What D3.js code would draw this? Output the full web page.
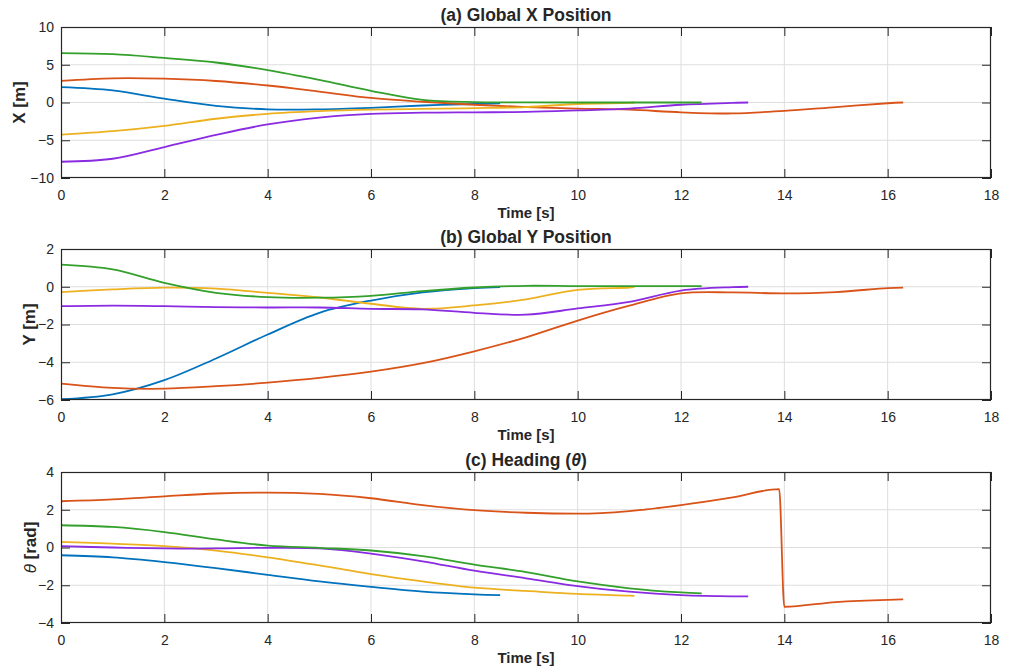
<!DOCTYPE html>
<html>
<head>
<meta charset="utf-8">
<script src="https://cdn.jsdelivr.net/npm/d3@7"></script>
<style>
  body { margin: 0; background: #fff; }
</style>
</head>
<body>
<svg id="chart" width="1011" height="668"></svg>
<script>
// time samples for each robot (seconds)
const timeBlue   = [0, 1, 2, 3, 4, 5, 6, 7, 8, 8.5]
const timeYellow = [0, 1, 2, 3, 4, 5, 6, 7, 8, 9, 10, 11, 11.1]
const timeGreen  = [0, 1, 2, 3, 4, 5, 6, 7, 8, 9, 10, 11, 12, 12.4]
const timePurple = [0, 1, 2, 3, 4, 5, 6, 7, 8, 9, 10, 11, 12, 13, 13.3]
const timeOrange = [0, 1, 2, 3, 4, 5, 6, 7, 8, 9, 10, 11, 12, 13, 14, 15, 16, 16.3]
const timeOrangeHeading = [0, 1, 2, 3, 4, 5, 6, 7, 8, 9, 10, 11, 12, 13, 13.9, 14, 15, 16, 16.3]

// (a) global X position [m]
const blueX   = [2.03, 1.6, 0.5, -0.45, -0.9, -0.9, -0.7, -0.4, -0.2, -0.1]
const yellowX = [-4.25, -3.8, -3.1, -2.15, -1.5, -1.15, -0.95, -0.85, -0.75, -0.6, -0.2, -0.05, 0]
const greenX  = [6.54, 6.4, 5.9, 5.3, 4.3, 3.0, 1.55, 0.35, 0.05, 0.02, 0, 0, 0, 0]
const purpleX = [-7.85, -7.45, -5.9, -4.3, -2.9, -2.0, -1.5, -1.35, -1.3, -1.25, -1.05, -0.8, -0.3, -0.05, 0]
const orangeX = [2.87, 3.2, 3.15, 2.85, 2.25, 1.45, 0.6, 0.1, -0.3, -0.6, -0.8, -0.95, -1.3, -1.45, -1.1, -0.6, -0.1, 0]

// (b) global Y position [m]
const blueY   = [-5.96, -5.7, -4.95, -3.8, -2.53, -1.38, -0.73, -0.3, -0.07, -0.02]
const yellowY = [-0.28, -0.14, -0.05, -0.1, -0.32, -0.57, -0.9, -1.17, -0.99, -0.67, -0.16, -0.04, 0]
const greenY  = [1.17, 0.92, 0.21, -0.32, -0.55, -0.58, -0.48, -0.23, -0.04, 0.05, 0.03, 0.03, 0.03, 0.03]
const purpleY = [-1.03, -1.0, -1.03, -1.08, -1.1, -1.1, -1.17, -1.2, -1.38, -1.48, -1.15, -0.8, -0.2, -0.02, 0]
const orangeY = [-5.13, -5.36, -5.4, -5.27, -5.08, -4.83, -4.5, -4.05, -3.42, -2.68, -1.79, -1.0, -0.35, -0.3, -0.35, -0.28, -0.07, -0.05]

// (c) heading [rad]
const blueH   = [-0.41, -0.52, -0.77, -1.09, -1.45, -1.8, -2.09, -2.34, -2.48, -2.52]
const yellowH = [0.3, 0.2, 0.07, -0.16, -0.52, -0.95, -1.41, -1.8, -2.13, -2.3, -2.46, -2.55, -2.56]
const greenH  = [1.18, 1.09, 0.82, 0.43, 0.1, -0.02, -0.16, -0.46, -0.91, -1.3, -1.8, -2.16, -2.38, -2.43]
const purpleH = [0.07, 0, -0.05, -0.05, -0.02, -0.05, -0.32, -0.73, -1.23, -1.63, -2.05, -2.34, -2.52, -2.59, -2.59]
const orangeH = [2.45, 2.55, 2.71, 2.86, 2.91, 2.84, 2.61, 2.25, 1.98, 1.84, 1.79, 1.93, 2.25, 2.66, 3.09, -3.14, -2.89, -2.77, -2.75]

const xTicks = [0, 2, 4, 6, 8, 10, 12, 14, 16, 18]

const colors = {
    blue: '#0072BD',
    orange: '#D95319',
    yellow: '#EDB120',
    purple: '#8A2BE2',
    green: '#33A02C'
}

// sizes
const left = 61
const right = 991
const plotHeight = 151
const tickLen = 9
const fontFamily = '"Liberation Sans", Arial, sans-serif'
const ink = '#262626'

const panels = [
    {
        top: 27, domain: [-10, 10], ticks: [-10, -5, 0, 5, 10],
        title: '(a) Global X Position', ylabel: 'X [m]', ylabelX: 19,
        series: [
            { t: timeBlue, v: blueX, c: colors.blue },
            { t: timeOrange, v: orangeX, c: colors.orange },
            { t: timeYellow, v: yellowX, c: colors.yellow },
            { t: timePurple, v: purpleX, c: colors.purple },
            { t: timeGreen, v: greenX, c: colors.green }
        ]
    },
    {
        top: 249, domain: [-6, 2], ticks: [-6, -4, -2, 0, 2],
        title: '(b) Global Y Position', ylabel: 'Y [m]', ylabelX: 29,
        series: [
            { t: timeBlue, v: blueY, c: colors.blue },
            { t: timeOrange, v: orangeY, c: colors.orange },
            { t: timeYellow, v: yellowY, c: colors.yellow },
            { t: timePurple, v: purpleY, c: colors.purple },
            { t: timeGreen, v: greenY, c: colors.green }
        ]
    },
    {
        top: 472, domain: [-4, 4], ticks: [-4, -2, 0, 2, 4],
        title: null, ylabel: null, ylabelX: 30,
        series: [
            { t: timeBlue, v: blueH, c: colors.blue },
            { t: timeOrangeHeading, v: orangeH, c: colors.orange, sharp: true },
            { t: timeYellow, v: yellowH, c: colors.yellow },
            { t: timePurple, v: purpleH, c: colors.purple },
            { t: timeGreen, v: greenH, c: colors.green }
        ]
    }
]

const svg = d3.select('#chart')
svg.append('rect').attr('width', 1011).attr('height', 668).attr('fill', '#fff')

const xScale = d3.scaleLinear().domain([0, 18]).range([left, right])

const boldText = (sel, size) => sel
    .style('font-family', fontFamily)
    .style('font-size', size + 'px')
    .style('font-weight', 'bold')
    .style('fill', ink)

panels.forEach(p => {
    const bottom = p.top + plotHeight
    const yScale = d3.scaleLinear().domain(p.domain).range([bottom, p.top])
    const g = svg.append('g')

    // grid
    g.append('g').selectAll('line')
        .data(xTicks.slice(1, -1))
        .enter().append('line')
        .attr('x1', d => xScale(d)).attr('x2', d => xScale(d))
        .attr('y1', p.top).attr('y2', bottom)
        .attr('stroke', '#dedede').attr('stroke-width', 1)
    g.append('g').selectAll('line')
        .data(p.ticks.slice(1, -1))
        .enter().append('line')
        .attr('x1', left).attr('x2', right)
        .attr('y1', d => yScale(d)).attr('y2', d => yScale(d))
        .attr('stroke', '#dedede').attr('stroke-width', 1)

    // data lines
    p.series.forEach(s => {
        const line = d3.line()
            .x(d => xScale(d[0]))
            .y(d => yScale(d[1]))
            .curve(s.sharp ? d3.curveMonotoneX : d3.curveCatmullRom.alpha(0.5))
        g.append('path')
            .datum(s.t.map((t, i) => [t, s.v[i]]))
            .attr('d', line)
            .attr('fill', 'none')
            .attr('stroke', s.c)
            .attr('stroke-width', 1.8)
            .attr('stroke-linejoin', 'round')
    })

    // axes with inward ticks on all four sides
    const xAxisB = d3.axisBottom(xScale).tickValues(xTicks).tickSizeInner(-tickLen).tickSizeOuter(0).tickPadding(12)
    const xAxisT = d3.axisTop(xScale).tickValues(xTicks).tickSizeInner(-tickLen).tickSizeOuter(0).tickFormat('')
    const yAxisL = d3.axisLeft(yScale).tickValues(p.ticks).tickSizeInner(-tickLen).tickSizeOuter(0).tickPadding(7)
    const yAxisR = d3.axisRight(yScale).tickValues(p.ticks).tickSizeInner(-tickLen).tickSizeOuter(0).tickFormat('')

    const axes = [
        g.append('g').attr('transform', `translate(0,${bottom})`).call(xAxisB),
        g.append('g').attr('transform', `translate(0,${p.top})`).call(xAxisT),
        g.append('g').attr('transform', `translate(${left},0)`).call(yAxisL),
        g.append('g').attr('transform', `translate(${right},0)`).call(yAxisR)
    ]
    axes.forEach(a => {
        a.select('.domain').remove()
        a.selectAll('line').attr('stroke', ink).attr('stroke-width', 1)
        a.selectAll('text')
            .style('font-family', fontFamily)
            .style('font-size', '14px')
            .style('fill', ink)
    })

    // box
    g.append('rect')
        .attr('x', left + 0.5).attr('y', p.top + 0.5)
        .attr('width', right - left - 1).attr('height', plotHeight - 1)
        .attr('fill', 'none').attr('stroke', ink).attr('stroke-width', 1.2)

    // x label
    g.append('text')
        .call(boldText, 15)
        .attr('x', (left + right) / 2)
        .attr('y', bottom + 40)
        .attr('text-anchor', 'middle')
        .text('Time [s]')

    // title
    const title = g.append('text')
        .call(boldText, 17.5)
        .attr('x', (left + right) / 2)
        .attr('y', p.top - 6)
        .attr('text-anchor', 'middle')
    if (p.title) {
        title.text(p.title)
    } else {
        title.append('tspan').text('(c) Heading (')
        title.append('tspan').style('font-style', 'italic').text('θ')
        title.append('tspan').text(')')
    }

    // y label
    const yl = g.append('text')
        .call(boldText, 17)
        .attr('transform', `translate(${p.ylabelX},${p.top + plotHeight / 2}) rotate(-90)`)
        .attr('text-anchor', 'middle')
        .attr('dy', '0.35em')
    if (p.ylabel) {
        yl.text(p.ylabel)
    } else {
        yl.append('tspan').style('font-style', 'italic').style('font-weight', 'normal').text('θ')
        yl.append('tspan').text(' [rad]')
    }
})
</script>
</body>
</html>
